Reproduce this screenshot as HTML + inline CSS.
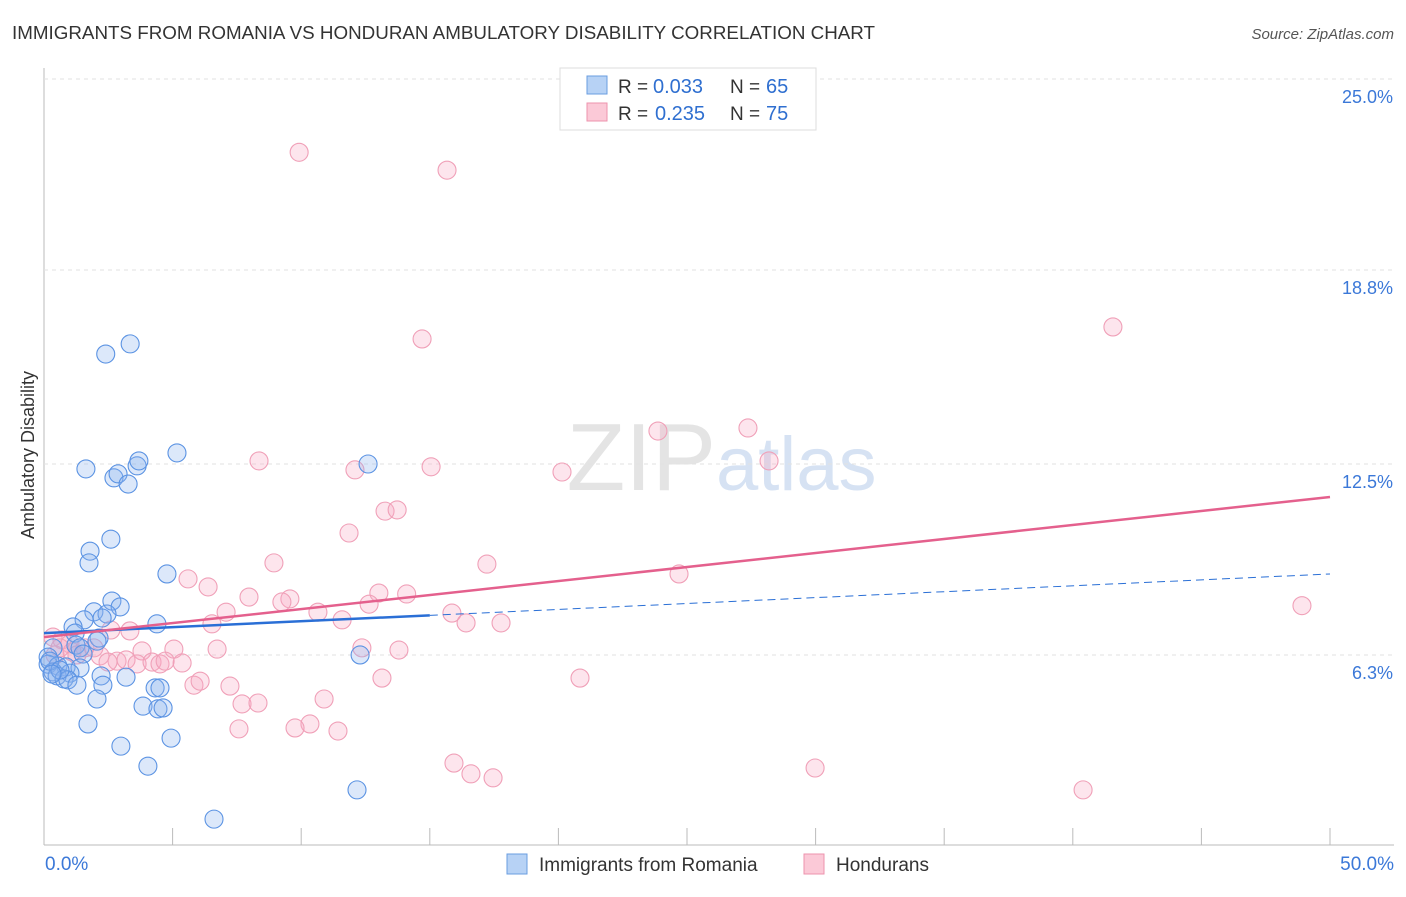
<!DOCTYPE html>
<html><head><meta charset="utf-8"><style>
body{margin:0;background:#fff;font-family:"Liberation Sans",sans-serif}
svg text{font-family:"Liberation Sans",sans-serif}
</style></head><body>
<svg id="chart" width="1406" height="892" xmlns="http://www.w3.org/2000/svg">
<text x="12" y="39" font-size="18" fill="#333" textLength="863" lengthAdjust="spacingAndGlyphs">IMMIGRANTS FROM ROMANIA VS HONDURAN AMBULATORY DISABILITY CORRELATION CHART</text>
<text x="1394" y="39" font-size="15" fill="#555" font-style="italic" text-anchor="end">Source: ZipAtlas.com</text>
<text x="716" y="490" font-size="96" fill="#e4e4e4" font-family="Liberation Serif" text-anchor="end">ZIP</text>
<text x="716" y="490" font-size="76" fill="#d6e2f3">atlas</text>
<text transform="translate(34,455) rotate(-90)" font-size="18" fill="#333" text-anchor="middle">Ambulatory Disability</text>
<g id="grid"></g><g id="pts"></g><g id="lines"></g>
<g>
<rect x="560" y="68" width="256" height="62" fill="#fff" stroke="#ddd"/>
<rect x="587" y="76" width="20" height="18" fill="#b7d2f5" stroke="#6a9de0"/>
<rect x="587" y="103" width="20" height="18" fill="#fbc9d7" stroke="#ee93ae"/>
<text x="618" y="93" font-size="19" fill="#333">R = </text><text x="653" y="93" font-size="20" fill="#2f6fd0">0.033</text>
<text x="730" y="93" font-size="19" fill="#333">N = </text><text x="766" y="93" font-size="20" fill="#2f6fd0">65</text>
<text x="618" y="120" font-size="19" fill="#333">R = </text><text x="655" y="120" font-size="20" fill="#2f6fd0">0.235</text>
<text x="730" y="120" font-size="19" fill="#333">N = </text><text x="766" y="120" font-size="20" fill="#2f6fd0">75</text>
</g>
<g>
<rect x="507" y="854" width="20" height="20" fill="#b7d2f5" stroke="#6a9de0"/>
<text x="539" y="871" font-size="19" fill="#333">Immigrants from Romania</text>
<rect x="804" y="854" width="20" height="20" fill="#fbc9d7" stroke="#ee93ae"/>
<text x="836" y="871" font-size="19" fill="#333">Hondurans</text>
</g>
</svg>
<script>
const yTicks=[6.3,12.5,18.8,25.0];
const xTickLabels=["0.0%","50.0%"];
const blueX=[2.4,3.35,5.17,1.63,2.72,2.88,3.27,3.62,3.69,12.6,2.6,1.79,1.75,4.78,2.64,2.96,1.94,2.45,2.26,1.56,1.13,4.39,1.21,2.14,2.06,1.24,1.4,0.35,1.52,0.16,12.29,0.16,0.54,0.86,1.4,0.35,1.01,0.51,0.78,0.93,2.22,3.19,2.29,1.28,4.32,4.51,2.06,3.85,4.43,4.63,1.71,4.94,2.99,4.04,12.17,6.61,0.23,0.62,0.31];
const blueY=[16.07,16.4,12.86,12.34,12.05,12.18,11.85,12.44,12.6,12.5,10.06,9.67,9.29,8.93,8.05,7.86,7.7,7.63,7.5,7.44,7.21,7.31,7.01,6.85,6.75,6.62,6.53,6.53,6.33,6.23,6.3,6.0,5.94,5.91,5.88,5.75,5.71,5.62,5.52,5.49,5.62,5.58,5.32,5.32,5.23,5.23,4.87,4.64,4.55,4.58,4.06,3.6,3.34,2.69,1.92,0.97,6.1,5.81,5.68];
const pinkX=[9.92,15.67,41.56,14.7,23.87,27.37,8.36,12.09,15.05,20.14,28.19,11.86,13.26,13.73,8.94,17.22,24.69,5.6,6.38,7.97,9.56,9.25,13.02,14.1,12.64,10.65,7.08,15.86,11.59,16.41,17.77,48.91,6.53,3.34,2.6,0.35,0.7,1.01,1.59,1.94,1.09,1.28,2.18,2.84,3.19,0.43,0.62,3.81,5.05,6.73,12.36,13.8,2.49,3.62,4.2,4.51,4.71,5.37,5.83,6.07,7.23,13.14,20.84,10.89,7.7,8.32,10.34,9.76,7.58,11.43,15.94,16.6,17.46,29.98,40.4];
const pinkY=[22.62,22.04,16.95,16.56,13.57,13.67,12.6,12.31,12.41,12.24,12.6,10.26,10.97,11.01,9.29,9.25,8.93,8.77,8.51,8.18,8.12,8.02,8.31,8.28,7.95,7.69,7.69,7.66,7.44,7.34,7.34,7.9,7.31,7.08,7.11,6.88,6.79,6.66,6.53,6.53,6.4,6.3,6.27,6.1,6.14,6.3,6.53,6.43,6.49,6.49,6.53,6.46,6.07,6.01,6.07,6.01,6.1,6.04,5.32,5.45,5.29,5.55,5.55,4.87,4.71,4.74,4.06,3.93,3.9,3.83,2.79,2.44,2.31,2.63,1.92];
const blueTrend=[7.01,8.93];
const pinkTrend=[6.88,11.43];
const NS="http://www.w3.org/2000/svg";
const X=v=>44+v*(1330-44)/50;
const Y=v=>849-v*30.8;
function mk(t,a,p){const e=document.createElementNS(NS,t);for(const k in a)e.setAttribute(k,a[k]);p.appendChild(e);return e;}
const grid=document.getElementById('grid');
mk('line',{x1:44,y1:68,x2:44,y2:845,stroke:'#bbb'},grid);
mk('line',{x1:44,y1:845,x2:1394,y2:845,stroke:'#bbb'},grid);
yTicks.forEach(t=>{
 const g=mk('line',{x1:44,y1:Y(t),x2:1394,y2:Y(t),stroke:'#e2e2e2','stroke-dasharray':'4,4'},grid);
 
 
 const tx=mk('text',{x:1393,y:Y(t)+24,'font-size':18,fill:'#3b78d8','text-anchor':'end'},grid);
 tx.textContent=t.toFixed(1)+'%';
 
 
});
for(let i=1;i<=10;i++){const x=X(i*5);mk('line',{x1:x,y1:828,x2:x,y2:845,stroke:'#bbb'},grid);}
[[0,'start',45],[50,'end',1394]].forEach((d,i)=>{
 const tx=mk('text',{x:d[2],y:870,'font-size':19,fill:'#3b78d8','text-anchor':d[1]},grid);
 tx.textContent=xTickLabels[i];
 
 
});
const pts=document.getElementById('pts');
pinkX.forEach((v,i)=>{
 const c=mk('circle',{cx:X(v),cy:Y(pinkY[i]),r:9,fill:'rgba(248,170,195,0.3)',stroke:'#f0a0b8','stroke-width':1.1},pts);
 
 
});
blueX.forEach((v,i)=>{
 const c=mk('circle',{cx:X(v),cy:Y(blueY[i]),r:9,fill:'rgba(140,180,240,0.3)',stroke:'#5b93e3','stroke-width':1.1},pts);
 
 
});
const L=document.getElementById('lines');
const bAt=x=>blueTrend[0]+(blueTrend[1]-blueTrend[0])*x/50;
let l=mk('line',{x1:X(0),y1:Y(bAt(0)),x2:X(15),y2:Y(bAt(15)),stroke:'#2a6fd6','stroke-width':2.5},L);


l=mk('line',{x1:X(15),y1:Y(bAt(15)),x2:X(50),y2:Y(bAt(50)),stroke:'#2a6fd6','stroke-width':1,'stroke-dasharray':'8,5'},L);


l=mk('line',{x1:X(0),y1:Y(pinkTrend[0]),x2:X(50),y2:Y(pinkTrend[1]),stroke:'#e4608d','stroke-width':2.5},L);


</script>
</body></html>
